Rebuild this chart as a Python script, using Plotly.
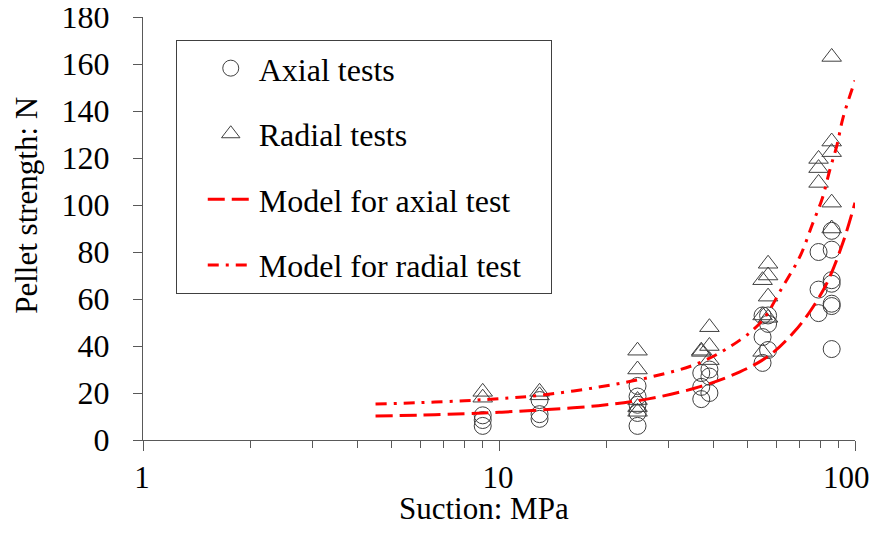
import plotly.graph_objects as go

# axial tests (circles)
axial_x = [9, 9, 9,
           13, 13, 13,
           24.5, 24.5, 24.5, 24.5, 24.5,
           37, 37, 37, 39, 39, 39,
           55, 55, 55, 57, 57, 57,
           79, 79, 79, 86, 86, 86, 86, 86, 86, 86]
axial_y = [10.5, 8.5, 6,
           17, 11, 9,
           23, 18.5, 15, 11.5, 6,
           28.5, 22.6, 17.4, 30, 27, 20,
           53, 43.8, 32.8, 53, 49.4, 38.3,
           80, 64, 54, 89, 81, 68, 66.5, 58, 57, 38.7]

# radial tests (triangles)
radial_x = [9, 9,
            13, 13,
            24.5, 24.5, 24.5, 24.5, 24.5,
            37, 37, 39, 39, 39,
            55, 55, 55, 57, 57, 57, 57,
            79, 79, 79, 86, 86, 86, 86, 86]
radial_y = [20.5, 18,
            20.5, 19,
            38, 30, 17, 14, 12,
            38, 37.5, 48, 40, 34,
            68, 53, 37.5, 75, 70, 61, 52,
            119.6, 115.7, 109.4, 163, 127, 122.5, 101, 90]

# model curves
model_ax_x = [4.5, 6, 8, 10, 13, 19, 26.5, 36.5, 47.5, 57.5, 67, 75, 83.5, 92.5, 100]
model_ax_y = [10.2, 10.6, 11.2, 11.8, 12.8, 14.6, 17.6, 22.6, 29, 36, 45.5, 55, 67, 84, 101]

model_rad_x = [4.5, 6, 8, 10, 13, 19, 26.5, 36.5, 47.5, 55, 62.5, 70, 76, 81, 85, 89, 92.5, 100]
model_rad_y = [15.3, 15.9, 16.7, 17.6, 19, 22.5, 26.7, 32.8, 42.5, 51, 65, 78, 92, 103, 115, 125.5, 137, 153]

x_tickvals = [1, 10, 100]
x_ticktext = ["1", "10", "100\u00a0\u00a0"]

FONT = "Liberation Serif"
MARKER_LINE = "#404040"
AXIS = "#595959"

fig = go.Figure()

fig.add_trace(go.Scatter(
    x=axial_x, y=axial_y, mode="markers", name="Axial tests",
    legendgroup="a",
    marker=dict(symbol="circle-open", size=17, color=MARKER_LINE, line=dict(width=1))
))
fig.add_trace(go.Scatter(
    x=radial_x, y=radial_y, mode="markers", name="Radial tests",
    legendgroup="b",
    marker=dict(symbol="triangle-up-open", size=17, color=MARKER_LINE, line=dict(width=1))
))
fig.add_trace(go.Scatter(
    x=model_ax_x, y=model_ax_y, mode="lines", name="Model for axial test",
    legendgroup="c", line_shape="spline",
    line=dict(color="#ff0000", width=3, dash="17px,7px")
))
fig.add_trace(go.Scatter(
    x=model_rad_x, y=model_rad_y, mode="lines", name="Model for radial test\u00a0\u00a0\u00a0",
    legendgroup="d", line_shape="spline",
    line=dict(color="#ff0000", width=3, dash="11px,7px,3px,7px")
))

# page body adds an 8px offset, so the figure is 8px smaller than the window
fig.update_layout(
    width=869, height=532,
    margin=dict(l=135, r=22, t=9, b=100),
    paper_bgcolor="white", plot_bgcolor="white",
    font=dict(family=FONT, size=32, color="black"),
    legend=dict(
        x=0.046, y=0.946, xanchor="left", yanchor="top",
        bgcolor="white", bordercolor="#404040", borderwidth=1,
        font=dict(size=32), tracegroupgap=21, itemwidth=46, indentation=26,
    ),
    annotations=[
        dict(text="Suction: MPa", xref="paper", yref="paper", x=0.479, y=-0.163,
             xanchor="center", yanchor="middle", showarrow=False, font=dict(size=31)),
        dict(text="Pellet strength: N", xref="paper", yref="paper", x=-0.163, y=0.556,
             xanchor="center", yanchor="middle", showarrow=False, textangle=-90,
             font=dict(size=31)),
    ],
)

fig.update_xaxes(
    type="log", range=[0, 2], automargin=False,
    tickvals=x_tickvals, ticktext=x_ticktext,
    tickfont=dict(size=31), ticklabelshift=-1,
    ticks="outside", ticklen=10, tickcolor=AXIS,
    showline=True, linecolor=AXIS, linewidth=1,
    showgrid=False, zeroline=False, ticklabelstandoff=0,
    ticklabeloverflow="allow",
    minor=dict(ticks="outside", ticklen=7, tickcolor=AXIS,
               tickvals=[2, 3, 4, 5, 6, 7, 8, 9, 20, 30, 40, 50, 60, 70, 80, 90],
               showgrid=False),
)
fig.update_yaxes(
    range=[0, 180], dtick=20, automargin=False,
    ticks="outside", ticklen=9, tickcolor=AXIS,
    showline=True, linecolor=AXIS, linewidth=1,
    showgrid=False, zeroline=False, ticklabelstandoff=17,
    ticklabeloverflow="allow",
)

fig.write_html("out.html")
